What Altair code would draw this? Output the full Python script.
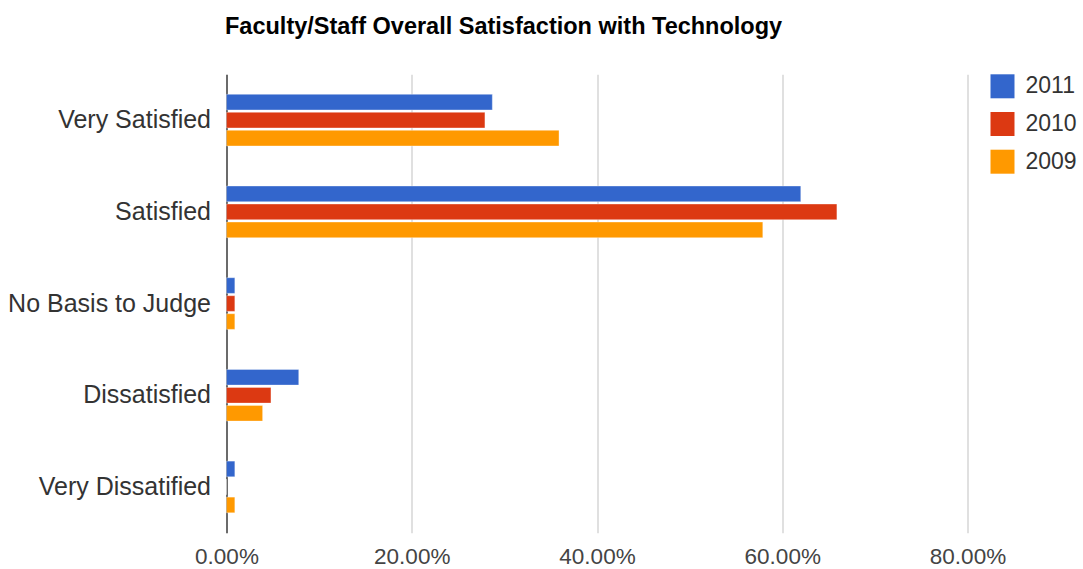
import altair as alt
import pandas as pd

categories = ["Very Satisfied", "Satisfied", "No Basis to Judge", "Dissatisfied", "Very Dissatified"]
years = ["2011", "2010", "2009"]
v2011 = [0.287, 0.620, 0.009, 0.078, 0.009]
v2010 = [0.279, 0.659, 0.009, 0.048, 0.0]
v2009 = [0.359, 0.579, 0.009, 0.039, 0.009]
colors = ["#3366cc", "#dc3912", "#ff9900"]
x_ticks = [0, 0.2, 0.4, 0.6, 0.8]

rows = []
for yr, vals in zip(years, [v2011, v2010, v2009]):
    for c, v in zip(categories, vals):
        rows.append({"category": c, "year": yr, "value": v})
df = pd.DataFrame(rows)

FONT = "Liberation Sans"

bars = alt.Chart(df).mark_bar(stroke="white", strokeOpacity=0.35, strokeWidth=1).encode(
    y=alt.Y("category:N", sort=categories,
            scale=alt.Scale(paddingInner=0.411, paddingOuter=0.2055),
            axis=alt.Axis(title=None, labelFontSize=25, labelFont=FONT, labelColor="#333333",
                          labelPadding=16, ticks=False, domainColor="#444444", domainWidth=1.5,
                          grid=False, labelLimit=400)),
    yOffset=alt.YOffset("year:N", sort=years,
                        scale=alt.Scale(paddingInner=0.13, paddingOuter=0.065)),
    x=alt.X("value:Q", scale=alt.Scale(domain=[0, 0.8], nice=False),
            axis=alt.Axis(title=None, values=x_ticks, format=".2%", labelFontSize=22.5,
                          labelFont=FONT, labelColor="#444444", labelPadding=13,
                          labelFlush=False, ticks=False, domain=False,
                          gridColor="#cccccc", gridWidth=1.2)),
    color=alt.Color("year:N", sort=years,
                    scale=alt.Scale(domain=years, range=colors),
                    legend=alt.Legend(title=None, orient="none", legendX=764, legendY=0,
                                      symbolType="square", symbolSize=576, symbolStrokeWidth=0,
                                      labelFontSize=23, labelFont=FONT, labelColor="#333333",
                                      labelOffset=11, rowPadding=13.7, padding=0)),
)

chart = bars.properties(
    width=741,
    height=458.5,
    autosize=alt.AutoSizeParams(type="none"),
    padding={"left": 226.5, "top": 74.3, "right": 115.5, "bottom": 36.2},
    title=alt.TitleParams(
        "Faculty/Staff Overall Satisfaction with Technology",
        anchor="start", frame="group", font=FONT, fontSize=23.5, fontWeight="bold",
        color="#000000", baseline="alphabetic", offset=17, dx=-1.5,
    ),
).configure(background="white").configure_view(stroke=None)

chart.save("out.html", embed_options={"renderer": "svg", "actions": False})
